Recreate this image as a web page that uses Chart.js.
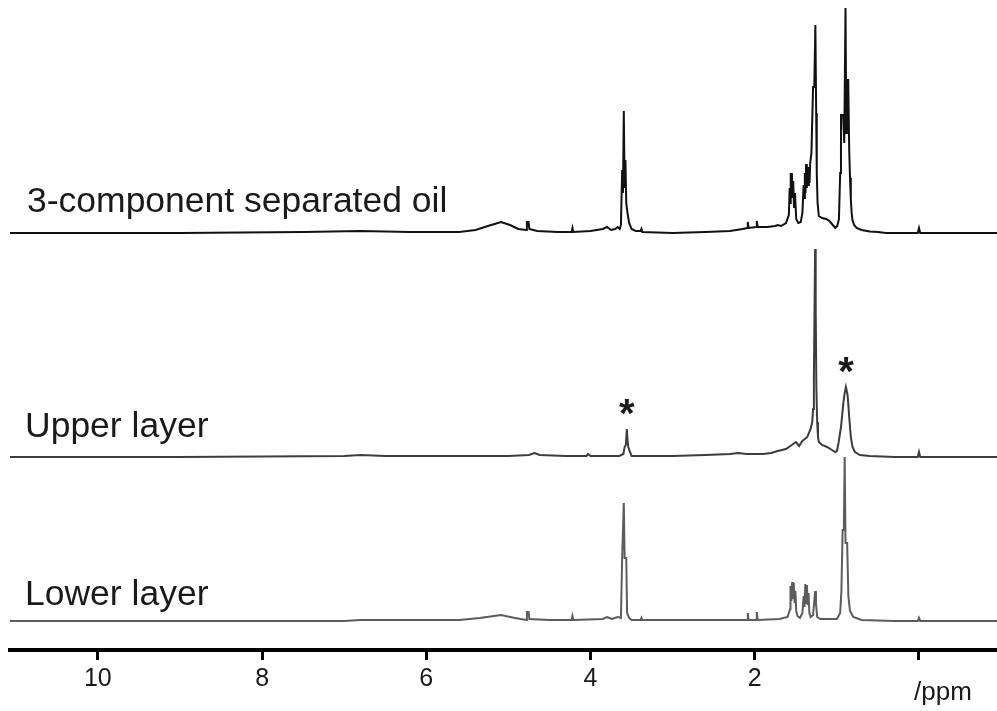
<!DOCTYPE html>
<html>
<head>
<meta charset="utf-8">
<script src="https://cdn.jsdelivr.net/npm/chart.js@4.4.1/dist/chart.umd.min.js"></script>
<style>
  html, body { margin: 0; padding: 0; background: #fff; }
  canvas { display: block; }
</style>
</head>
<body>
<canvas id="nmrChart" width="997" height="711"></canvas>
<script>
// tick marks on the ppm axis (0 has a tick but no label)
const ppmTicks = [10, 8, 6, 4, 2, 0];
const tickLabels = ['10', '8', '6', '4', '2', ''];

const traceNames = ['3-component separated oil', 'Upper layer', 'Lower layer'];

// [ppm, intensity]
const oilSpectrum = [
  [11.07, 0], [9.0, 0], [7.5, 1], [6.8, 2], [6.2, 1], [5.6, 1], [5.4, 3], [5.25, 7],
  [5.09, 11], [4.98, 8], [4.88, 4], [4.78, 3], [4.775, 11], [4.755, 11], [4.745, 4],
  [4.65, 2], [4.4, 1], [4.23, 1], [4.22, 5], [4.21, 1], [4.0, 2], [3.85, 4], [3.8, 6],
  [3.75, 3], [3.7, 4], [3.67, 6], [3.645, 4], [3.63, 8], [3.615, 63], [3.605, 40],
  [3.595, 122], [3.585, 45], [3.575, 73], [3.565, 30], [3.55, 20], [3.53, 10], [3.5, 4],
  [3.45, 2], [3.39, 2], [3.38, 4], [3.37, 1], [3.0, 0], [2.6, 1], [2.3, 2], [2.15, 4],
  [2.09, 5], [2.085, 11], [2.075, 5], [1.98, 6], [1.975, 12], [1.965, 6], [1.85, 6],
  [1.75, 7], [1.72, 8], [1.68, 7], [1.62, 10], [1.585, 18], [1.575, 45], [1.568, 30],
  [1.562, 60], [1.555, 38], [1.548, 60], [1.54, 35], [1.532, 52], [1.522, 25],
  [1.51, 40], [1.495, 14], [1.47, 10], [1.44, 11], [1.42, 20], [1.405, 48], [1.398, 35],
  [1.39, 60], [1.382, 40], [1.375, 69], [1.366, 45], [1.358, 62], [1.35, 48],
  [1.342, 66], [1.333, 50], [1.325, 70], [1.31, 80], [1.29, 146], [1.275, 146],
  [1.262, 208], [1.252, 120], [1.245, 60], [1.235, 30], [1.22, 17], [1.18, 15], [1.13, 14],
  [1.09, 12], [1.05, 8], [1.02, 5], [0.995, 7], [0.975, 14], [0.96, 60], [0.95, 118],
  [0.925, 118], [0.91, 90], [0.895, 225], [0.885, 100], [0.878, 153], [0.862, 153],
  [0.85, 83], [0.84, 55], [0.83, 33], [0.82, 20], [0.81, 13], [0.79, 8], [0.76, 5],
  [0.7, 3], [0.6, 1.5], [0.5, 1], [0.4, 0], [0.015, 0], [0.0, 5], [-0.015, 0], [-0.95, 0]
];

const upperSpectrum = [
  [11.07, 0], [9.0, 0], [7.0, 1], [6.8, 2], [6.5, 1], [5.5, 1], [5.0, 1], [4.75, 2],
  [4.68, 4], [4.62, 2], [4.3, 1], [4.05, 1], [4.03, 3], [4.0, 1], [3.65, 1], [3.6, 3],
  [3.585, 10], [3.57, 12], [3.558, 28], [3.548, 15], [3.54, 10], [3.52, 5], [3.5, 1],
  [3.0, 1], [2.6, 2], [2.3, 3], [2.2, 4], [2.1, 3], [1.9, 3], [1.8, 4], [1.72, 6],
  [1.62, 8], [1.55, 12], [1.5, 15], [1.46, 11], [1.42, 16], [1.36, 20], [1.32, 28],
  [1.3, 35], [1.29, 48], [1.28, 80], [1.272, 150], [1.265, 208], [1.258, 150],
  [1.25, 70], [1.24, 35], [1.23, 20], [1.22, 15], [1.18, 12], [1.12, 10], [1.06, 7],
  [1.02, 5], [1.0, 6], [0.98, 14], [0.95, 30], [0.92, 55], [0.905, 64], [0.89, 70],
  [0.88, 66], [0.87, 62], [0.86, 52], [0.85, 40], [0.83, 20], [0.81, 10], [0.78, 5],
  [0.72, 2], [0.6, 1], [0.3, 0], [0.015, 0], [0.0, 5], [-0.015, 0], [-0.95, 0]
];

const lowerSpectrum = [
  [11.07, 0], [9.0, 0], [7.0, 0], [6.8, 1], [5.6, 1], [5.35, 3], [5.09, 6], [4.92, 3],
  [4.78, 1], [4.775, 9], [4.755, 9], [4.745, 2], [4.5, 1], [4.23, 1], [4.22, 5],
  [4.21, 1], [3.85, 2], [3.8, 4], [3.74, 2], [3.67, 4], [3.63, 3], [3.615, 63],
  [3.605, 63], [3.595, 118], [3.585, 63], [3.565, 63], [3.555, 8], [3.53, 3], [3.5, 1],
  [3.39, 1], [3.38, 3], [3.37, 1], [2.09, 1], [2.085, 8], [2.075, 1], [1.98, 1],
  [1.975, 9], [1.965, 1], [1.7, 2], [1.6, 4], [1.57, 12], [1.565, 35], [1.555, 20],
  [1.545, 39], [1.535, 22], [1.525, 38], [1.515, 18], [1.505, 30], [1.495, 10],
  [1.48, 5], [1.45, 3], [1.42, 8], [1.405, 25], [1.395, 14], [1.385, 37], [1.375, 18],
  [1.365, 36], [1.355, 16], [1.345, 28], [1.335, 8], [1.32, 4], [1.29, 6], [1.275, 20],
  [1.265, 30], [1.255, 18], [1.24, 4], [1.2, 2], [1.0, 2], [0.96, 8], [0.945, 30],
  [0.93, 91], [0.915, 91], [0.905, 164], [0.895, 78], [0.875, 78], [0.86, 25],
  [0.84, 10], [0.8, 4], [0.7, 1], [0.3, 0], [0.015, 0], [0.0, 3], [-0.015, 0], [-0.95, 0]
];

// peaks marked with an asterisk in the upper layer
const starredPeaks = [3.558, 0.89];

// vertical stacking of the three traces
const traceOffsets = [417, 193, 29];
const traceColors = ['#111111', '#3d3d3d', '#5c5c5c'];
const spectra = [oilSpectrum, upperSpectrum, lowerSpectrum];

const datasets = spectra.map((spec, i) => ({
  label: traceNames[i],
  data: spec.map(p => ({ x: p[0], y: p[1] + traceOffsets[i] })),
  borderColor: traceColors[i],
  borderWidth: 2,
  pointRadius: 0,
  tension: 0,
  fill: false,
  clip: false
}));

const labelPlugin = {
  id: 'labels',
  afterDraw(chart) {
    const ctx = chart.ctx;
    const xs = chart.scales.x;
    const ys = chart.scales.y;
    ctx.save();
    ctx.fillStyle = '#1a1a1a';
    ctx.font = '35.5px "Liberation Sans", Arial, sans-serif';
    ctx.textAlign = 'left';
    ctx.textBaseline = 'alphabetic';
    ctx.fillText(traceNames[0], 27, 212);
    ctx.fillText(traceNames[1], 25, 437);
    ctx.fillText(traceNames[2], 25, 605);

    // asterisks above the starred peaks of the upper layer
    ctx.textAlign = 'center';
    ctx.textBaseline = 'middle';
    ctx.font = 'bold 40px "Liberation Sans", Arial, sans-serif';
    starredPeaks.forEach(ppm => {
      const pt = upperSpectrum.reduce((a, b) => Math.abs(b[0] - ppm) < Math.abs(a[0] - ppm) ? b : a);
      const x = xs.getPixelForValue(pt[0]);
      const y = ys.getPixelForValue(pt[1] + traceOffsets[1]);
      ctx.fillText('*', x, y - 13);
    });

    ctx.textAlign = 'left';
    ctx.textBaseline = 'alphabetic';
    ctx.font = '26px "Liberation Sans", Arial, sans-serif';
    ctx.fillText('/ppm', 914, 700);
    ctx.restore();
  }
};

new Chart(document.getElementById('nmrChart').getContext('2d'), {
  type: 'line',
  data: { datasets: datasets },
  options: {
    responsive: false,
    animation: false,
    devicePixelRatio: 1,
    layout: { padding: { left: 10, right: 0, top: 0, bottom: 13 } },
    plugins: { legend: { display: false }, tooltip: { enabled: false } },
    scales: {
      x: {
        type: 'linear',
        reverse: true,
        min: -0.95,
        max: 11.07,
        afterBuildTicks: scale => {
          scale.ticks = ppmTicks.map(v => ({ value: v }));
        },
        border: { display: true, width: 4, color: '#000' },
        grid: { drawOnChartArea: false, drawTicks: true, tickLength: 10, tickWidth: 3, color: '#000' },
        ticks: {
          autoSkip: false,
          maxRotation: 0,
          padding: 4,
          color: '#1a1a1a',
          font: { family: '"Liberation Sans", Arial, sans-serif', size: 25 },
          callback: (v) => tickLabels[ppmTicks.indexOf(v)]
        }
      },
      y: { display: false, min: 0, max: 650 }
    }
  },
  plugins: [labelPlugin]
});
</script>
</body>
</html>
